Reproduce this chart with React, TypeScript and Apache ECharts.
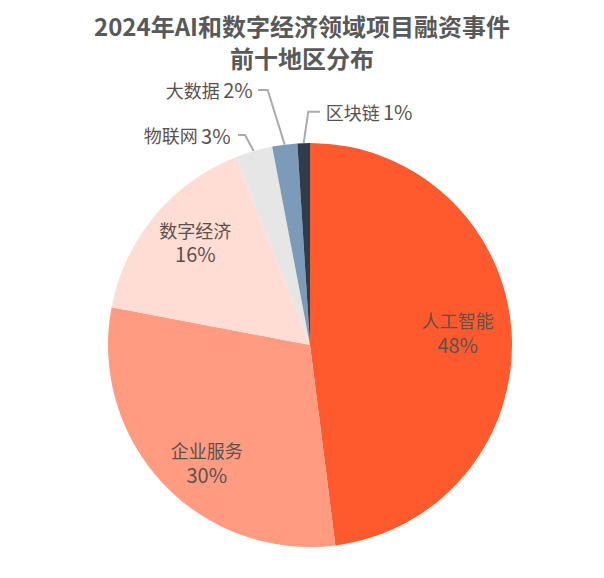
import React, { useEffect, useRef } from "react";
import * as echarts from "echarts";

const titleText = "2024年AI和数字经济领域项目融资事件\n前十地区分布";
const categories = ["人工智能", "企业服务", "数字经济", "物联网", "大数据", "区块链"];
const shares = [48, 30, 16, 3, 2, 1];
const sliceColors = ["#FF5A2E", "#FF9B80", "#FFDDD4", "#E6E6E6", "#7B9BB8", "#303C4A"];

// leader-line styling offsets (relative to the slice edge point computed by ECharts)
const outerLabelStyle: Record<number, { bend: number[]; end: number[]; text: number; align: string }> = {
  3: { bend: [-8.6, -16], end: [-15.6, -16], text: -23, align: "right" },
  4: { bend: [-17, -54.6], end: [-26.7, -54.6], text: -32, align: "right" },
  5: { bend: [4.6, -31.3], end: [16.3, -31.3], text: 22, align: "left" },
};
// small nudges of the inside labels
const innerLabelNudge: Record<number, number[]> = {
  0: [-6, -3],
  1: [9, 12],
  2: [4, -5],
};

const FONT = "'Noto Sans CJK SC', 'Noto Sans', sans-serif";
const TEXT_COLOR = "#5b5250";

export default function App() {
  const ref = useRef<HTMLDivElement>(null);
  useEffect(() => {
    if (!ref.current) return;
    const chart = echarts.init(ref.current, null, { renderer: "svg" });
    const rich = {
      n: { fontSize: 18, color: TEXT_COLOR, fontFamily: FONT, lineHeight: 24 },
      p: { fontSize: 20, color: TEXT_COLOR, fontFamily: FONT, lineHeight: 24 },
    };
    const bigCount = 3;
    chart.setOption({
      animation: false,
      title: {
        text: titleText,
        left: "center",
        top: 9,
        padding: 0,
        textStyle: {
          fontSize: 24,
          fontWeight: "bold",
          color: "#595959",
          fontFamily: FONT,
          lineHeight: 32,
        },
      },
      series: [
        {
          type: "pie",
          center: [310, 345],
          radius: [0, 202],
          startAngle: 90,
          clockwise: true,
          avoidLabelOverlap: false,
          silent: true,
          data: categories.map((name, i) => ({
            name,
            value: shares[i],
            itemStyle: { color: sliceColors[i] },
            label: { show: i >= bigCount },
            labelLine: { show: i >= bigCount },
          })),
          label: {
            position: "outside",
            formatter: (p: any) => `{n|${p.name}} {p|${p.value}%}`,
            rich,
          },
          labelLine: {
            length: 15,
            length2: 12,
            lineStyle: { color: "#aaaaaa", width: 2 },
          },
          labelLayout: (params: any) => {
            const s = outerLabelStyle[params.dataIndex];
            if (!s || !params.labelLinePoints) return {};
            const p0 = params.labelLinePoints[0];
            return {
              x: p0[0] + s.text,
              y: p0[1] + s.end[1],
              align: s.align,
              verticalAlign: "middle",
              labelLinePoints: [
                [p0[0], p0[1]],
                [p0[0] + s.bend[0], p0[1] + s.bend[1]],
                [p0[0] + s.end[0], p0[1] + s.end[1]],
              ],
            };
          },
        },
        {
          type: "pie",
          center: [310, 345],
          radius: [100, 202],
          startAngle: 90,
          clockwise: true,
          silent: true,
          avoidLabelOverlap: false,
          itemStyle: { color: "rgba(0,0,0,0)" },
          data: categories.map((name, i) => ({
            name,
            value: shares[i],
            label: { show: i < bigCount },
          })),
          label: {
            position: "inside",
            formatter: (p: any) => `{n|${p.name}}\n{p|${p.value}%}`,
            rich,
          },
          labelLine: { show: false },
          labelLayout: (params: any) => {
            const d = innerLabelNudge[params.dataIndex];
            if (!d) return {};
            return { dx: d[0], dy: d[1] };
          },
        },
      ],
    });
    return () => chart.dispose();
  }, []);
  return (
    <div
      ref={ref}
      style={{ position: "fixed", left: 0, top: 0, width: 604, height: 578, background: "#ffffff" }}
    />
  );
}
